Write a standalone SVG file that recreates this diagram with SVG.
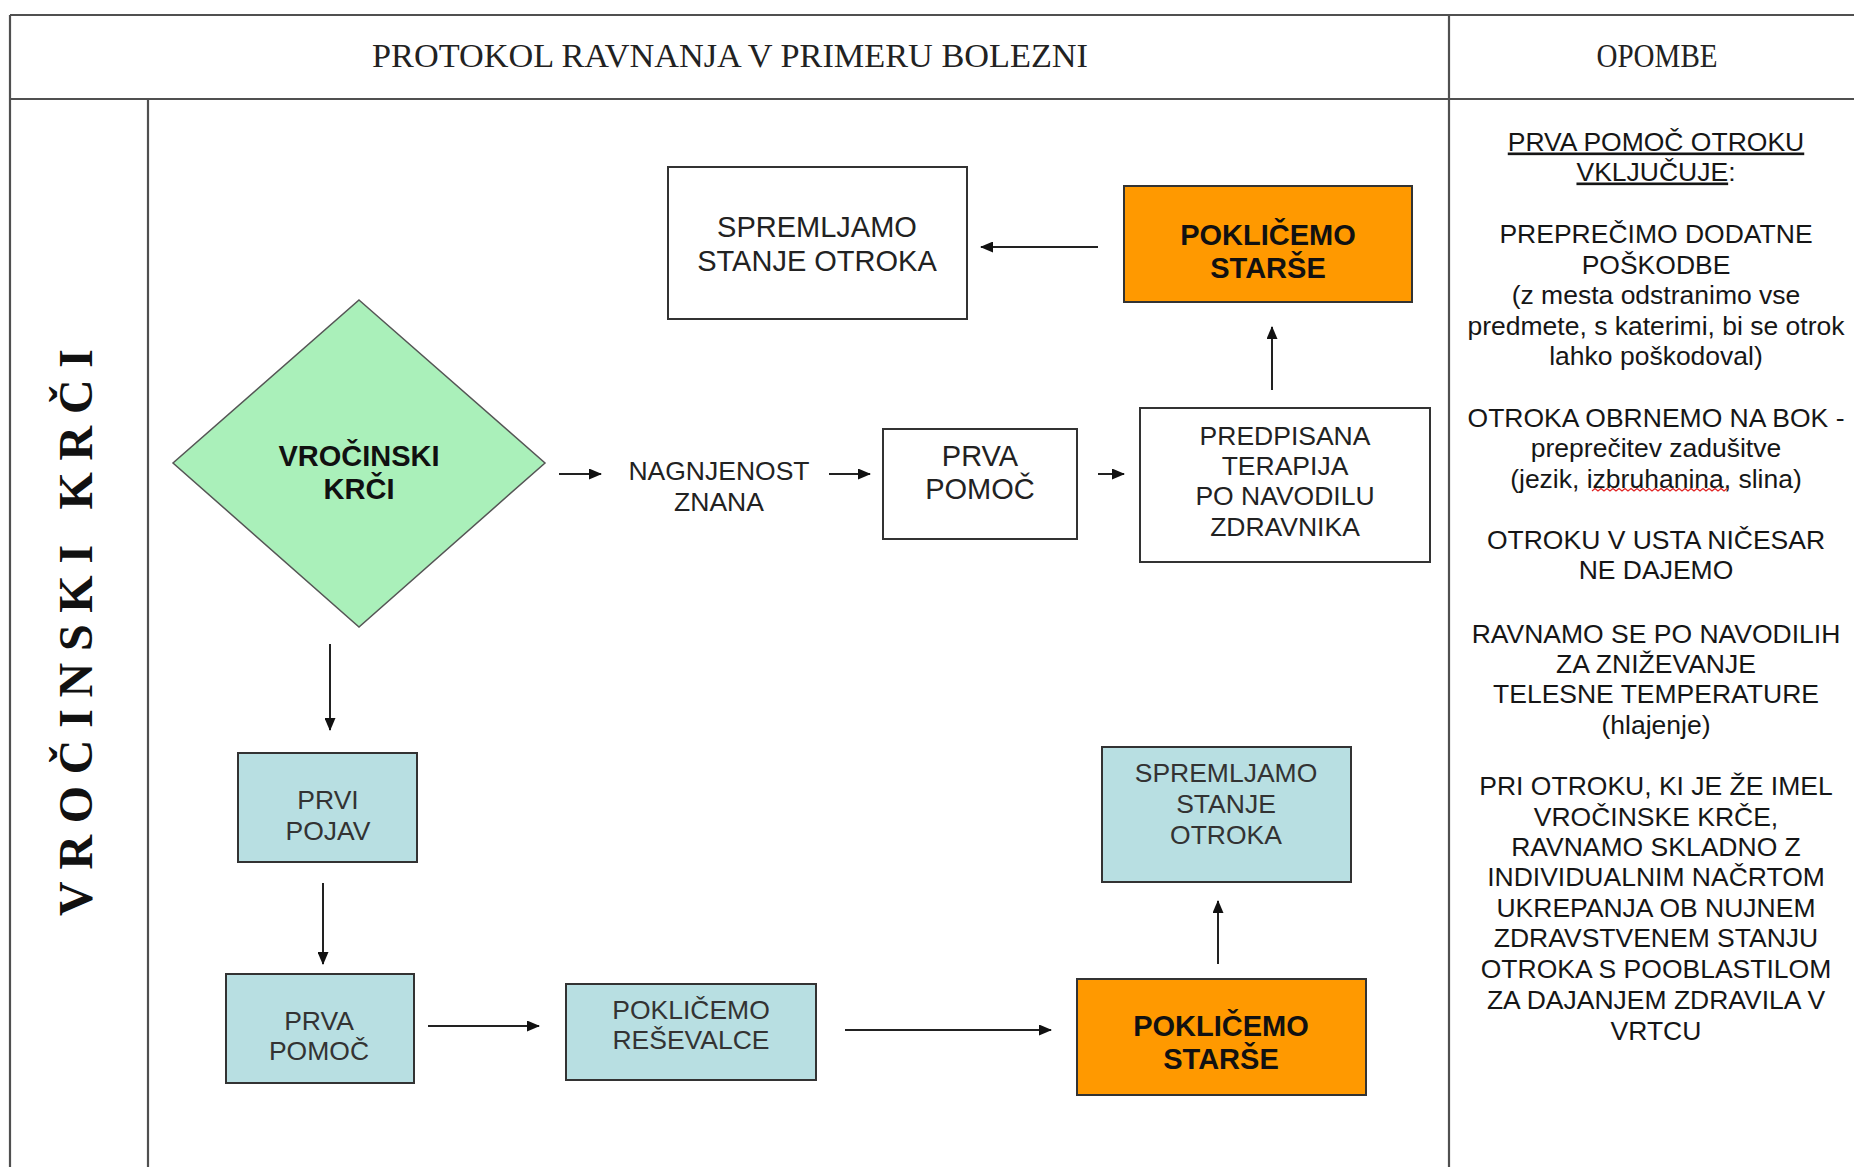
<svg xmlns="http://www.w3.org/2000/svg" width="1854" height="1167" viewBox="0 0 1854 1167">
  <defs>
    <marker id="arrow" markerUnits="userSpaceOnUse" markerWidth="13" markerHeight="11" refX="12" refY="5.5" orient="auto">
      <path d="M0,0 L13,5.5 L0,11 z" fill="#111"/>
    </marker>
    <style>
      .grid { stroke: #505050; stroke-width: 2.2; fill: none; }
      .head { font-family: "Liberation Serif", "Times New Roman", serif; font-size: 33px; fill: #222; text-anchor: middle; }
      .side { font-family: "Liberation Serif", "Times New Roman", serif; font-size: 48px; font-weight: bold; fill: #111; text-anchor: middle; }
      .box { stroke: #333; stroke-width: 2; }
      .white { fill: #ffffff; }
      .blue { fill: #b8dfe2; }
      .orange { fill: #ff9900; }
      .green { fill: #aaf0ba; stroke: #555; stroke-width: 1.5; }
      .lbl { font-family: "Liberation Sans", Arial, sans-serif; font-size: 26.5px; fill: #222; text-anchor: middle; }
      .lbl29 { font-family: "Liberation Sans", Arial, sans-serif; font-size: 29px; fill: #222; text-anchor: middle; }
      .bold { font-family: "Liberation Sans", Arial, sans-serif; font-size: 29px; font-weight: bold; fill: #111; text-anchor: middle; }
      .soft { fill: #333; }
      .note { font-family: "Liberation Sans", Arial, sans-serif; font-size: 26.5px; fill: #161616; text-anchor: middle; }
      .conn { stroke: #222; stroke-width: 2; fill: none; marker-end: url(#arrow); }
    </style>
  </defs>

  <rect width="1854" height="1167" fill="#ffffff"/>

  <!-- table frame -->
  <g id="table">
    <line class="grid" x1="10" y1="15" x2="1854" y2="15"/>
    <line class="grid" x1="10" y1="15" x2="10" y2="1167"/>
    <line class="grid" x1="10" y1="99" x2="1854" y2="99"/>
    <line class="grid" x1="148" y1="99" x2="148" y2="1167"/>
    <line class="grid" x1="1449" y1="15" x2="1449" y2="1167"/>
    <text class="head" x="730" y="66.5" textLength="716" lengthAdjust="spacingAndGlyphs">PROTOKOL RAVNANJA V PRIMERU BOLEZNI</text>
    <text class="head" x="1657" y="66.5" textLength="121" lengthAdjust="spacingAndGlyphs">OPOMBE</text>
    <text class="side" transform="translate(92,632.5) rotate(-90)" x="0" y="0" textLength="567" lengthAdjust="spacing">VROČINSKI KRČI</text>
  </g>

  <!-- connectors -->
  <g id="connectors">
    <line class="conn" x1="1098" y1="247" x2="981" y2="247"/>
    <line class="conn" x1="559" y1="474" x2="601" y2="474"/>
    <line class="conn" x1="829" y1="474" x2="870" y2="474"/>
    <line class="conn" x1="1098" y1="474" x2="1124" y2="474"/>
    <line class="conn" x1="1272" y1="390" x2="1272" y2="327"/>
    <line class="conn" x1="330" y1="644" x2="330" y2="730"/>
    <line class="conn" x1="323" y1="883" x2="323" y2="964"/>
    <line class="conn" x1="428" y1="1026" x2="539" y2="1026"/>
    <line class="conn" x1="845" y1="1030" x2="1051" y2="1030"/>
    <line class="conn" x1="1218" y1="964" x2="1218" y2="901"/>
  </g>

  <!-- upper branch -->
  <g id="spremljamo-top">
    <rect class="box white" x="668" y="167" width="299" height="152"/>
    <text class="lbl29" x="817" y="237">SPREMLJAMO</text>
    <text class="lbl29" x="817" y="271">STANJE OTROKA</text>
  </g>

  <g id="poklicemo-starse-top">
    <rect class="box orange" x="1124" y="186" width="288" height="116"/>
    <text class="bold" x="1268" y="244.5">POKLIČEMO</text>
    <text class="bold" x="1268" y="277.5">STARŠE</text>
  </g>

  <g id="vrocinski-krci">
    <polygon class="green" points="359,300 545,463 359,627 173,463"/>
    <text class="bold" x="359" y="466">VROČINSKI</text>
    <text class="bold" x="359" y="499">KRČI</text>
  </g>

  <g id="nagnjenost-znana">
    <text class="lbl" x="719" y="480">NAGNJENOST</text>
    <text class="lbl" x="719" y="511">ZNANA</text>
  </g>

  <g id="prva-pomoc-top">
    <rect class="box white" x="883" y="429" width="194" height="110"/>
    <text class="lbl29" x="980" y="466">PRVA</text>
    <text class="lbl29" x="980" y="499">POMOČ</text>
  </g>

  <g id="predpisana-terapija">
    <rect class="box white" x="1140" y="408" width="290" height="154"/>
    <text class="lbl" x="1285" y="444.5">PREDPISANA</text>
    <text class="lbl" x="1285" y="474.5">TERAPIJA</text>
    <text class="lbl" x="1285" y="504.5">PO NAVODILU</text>
    <text class="lbl" x="1285" y="535.5">ZDRAVNIKA</text>
  </g>

  <!-- lower branch -->
  <g id="prvi-pojav">
    <rect class="box blue" x="238" y="753" width="179" height="109"/>
    <text class="lbl soft" x="328" y="808.5">PRVI</text>
    <text class="lbl soft" x="328" y="839.5">POJAV</text>
  </g>

  <g id="prva-pomoc-bottom">
    <rect class="box blue" x="226" y="974" width="188" height="109"/>
    <text class="lbl soft" x="319" y="1029.5">PRVA</text>
    <text class="lbl soft" x="319" y="1059.5">POMOČ</text>
  </g>

  <g id="poklicemo-resevalce">
    <rect class="box blue" x="566" y="984" width="250" height="96"/>
    <text class="lbl soft" x="691" y="1018.5">POKLIČEMO</text>
    <text class="lbl soft" x="691" y="1048.5">REŠEVALCE</text>
  </g>

  <g id="poklicemo-starse-bottom">
    <rect class="box orange" x="1077" y="979" width="289" height="116"/>
    <text class="bold" x="1221" y="1036">POKLIČEMO</text>
    <text class="bold" x="1221" y="1069">STARŠE</text>
  </g>

  <g id="spremljamo-bottom">
    <rect class="box blue" x="1102" y="747" width="249" height="135"/>
    <text class="lbl soft" x="1226" y="781.5">SPREMLJAMO</text>
    <text class="lbl soft" x="1226" y="812.5">STANJE</text>
    <text class="lbl soft" x="1226" y="843.5">OTROKA</text>
  </g>

  <!-- notes column -->
  <g id="opombe">
    <text class="note" x="1656" y="150.5" text-decoration="underline">PRVA POMOČ OTROKU</text>
    <text class="note" x="1656" y="180.5"><tspan text-decoration="underline">VKLJUČUJE</tspan>:</text>
    <text class="note" x="1656" y="242.5">PREPREČIMO DODATNE</text>
    <text class="note" x="1656" y="273.5">POŠKODBE</text>
    <text class="note" x="1656" y="303.5">(z mesta odstranimo vse</text>
    <text class="note" x="1656" y="334.5">predmete, s katerimi, bi se otrok</text>
    <text class="note" x="1656" y="364.5">lahko poškodoval)</text>
    <text class="note" x="1656" y="426.5">OTROKA OBRNEMO NA BOK -</text>
    <text class="note" x="1656" y="456.5">preprečitev zadušitve</text>
    <text class="note" x="1656" y="487.5">(jezik, izbruhanina, slina)</text>
    <path d="M1592,491 l3,-2.5 l3,2.5 l3,-2.5 l3,2.5 l3,-2.5 l3,2.5 l3,-2.5 l3,2.5 l3,-2.5 l3,2.5 l3,-2.5 l3,2.5 l3,-2.5 l3,2.5 l3,-2.5 l3,2.5 l3,-2.5 l3,2.5 l3,-2.5 l3,2.5 l3,-2.5 l3,2.5 l3,-2.5 l3,2.5 l3,-2.5 l3,2.5 l3,-2.5 l3,2.5 l3,-2.5 l3,2.5 l3,-2.5 l3,2.5 l3,-2.5 l3,2.5 l3,-2.5 l3,2.5 l3,-2.5 l3,2.5 l3,-2.5 l3,2.5 l3,-2.5 l3,2.5 l3,-2.5 l3,2.5 l3,-2.5" fill="none" stroke="#e02020" stroke-width="1.2"/>
    <text class="note" x="1656" y="548.5">OTROKU V USTA NIČESAR</text>
    <text class="note" x="1656" y="578.5">NE DAJEMO</text>
    <text class="note" x="1656" y="642.5">RAVNAMO SE PO NAVODILIH</text>
    <text class="note" x="1656" y="672.5">ZA ZNIŽEVANJE</text>
    <text class="note" x="1656" y="702.5">TELESNE TEMPERATURE</text>
    <text class="note" x="1656" y="733.5">(hlajenje)</text>
    <text class="note" x="1656" y="794.5">PRI OTROKU, KI JE ŽE IMEL</text>
    <text class="note" x="1656" y="825.5">VROČINSKE KRČE,</text>
    <text class="note" x="1656" y="856">RAVNAMO SKLADNO Z</text>
    <text class="note" x="1656" y="885.5">INDIVIDUALNIM NAČRTOM</text>
    <text class="note" x="1656" y="916.5">UKREPANJA OB NUJNEM</text>
    <text class="note" x="1656" y="947">ZDRAVSTVENEM STANJU</text>
    <text class="note" x="1656" y="977.5">OTROKA S POOBLASTILOM</text>
    <text class="note" x="1656" y="1008.5">ZA DAJANJEM ZDRAVILA V</text>
    <text class="note" x="1656" y="1039.5">VRTCU</text>
  </g>
</svg>
